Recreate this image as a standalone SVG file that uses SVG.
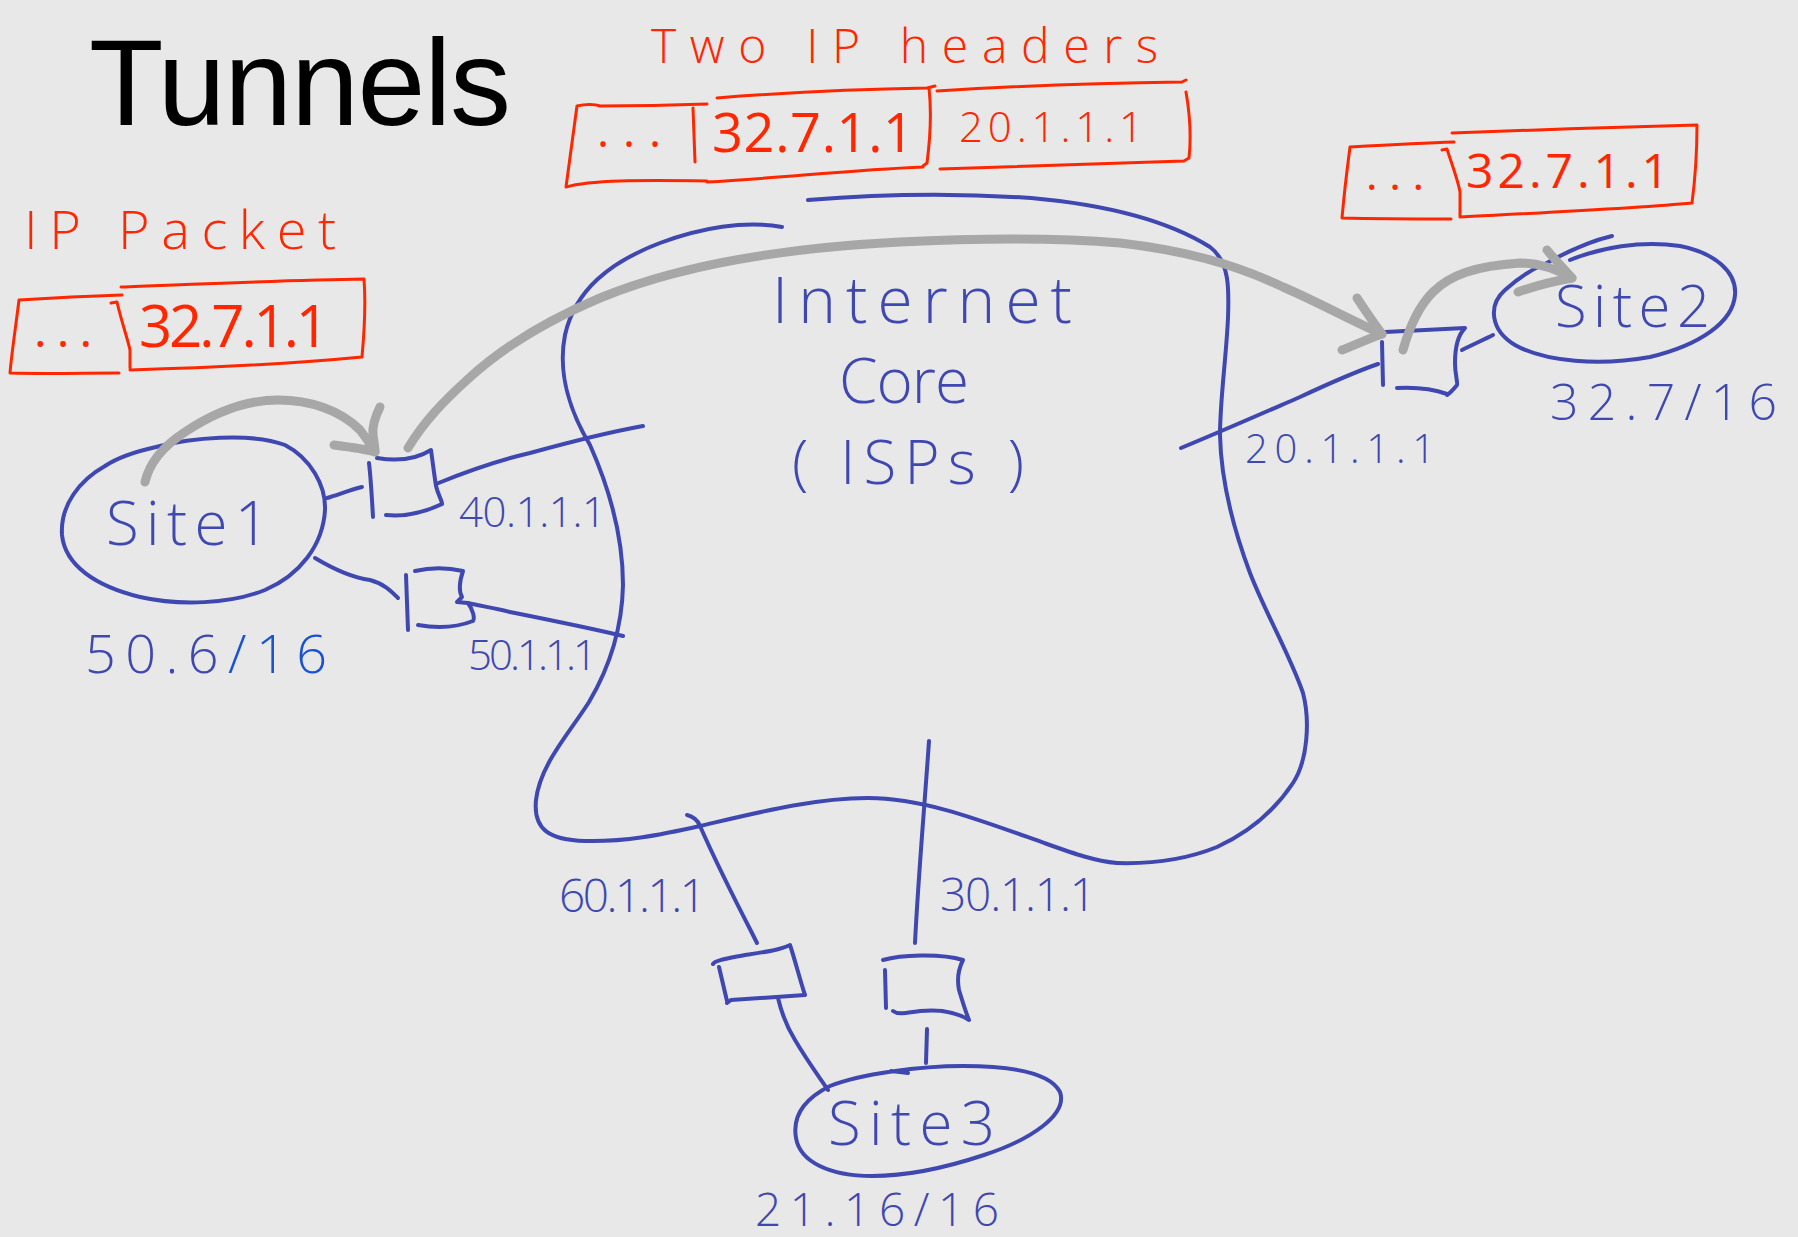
<svg xmlns="http://www.w3.org/2000/svg" width="1798" height="1237" viewBox="0 0 1798 1237">
  <style>
    .ink { fill: none; stroke: #3f47b1; stroke-width: 4; stroke-linecap: round; stroke-linejoin: round; }
    .red { fill: none; stroke: #ff2600; stroke-width: 3; stroke-linecap: round; stroke-linejoin: round; }
    .flow { fill: none; stroke: #a7a7a7; stroke-width: 9; stroke-linecap: round; stroke-linejoin: round; }
    .hand { font-family: "Open Sans", "Liberation Sans", sans-serif; font-weight: 300; }
    .bold { font-weight: 400; }
    .blue { fill: #3f47b1; }
    .redtxt { fill: #ff2600; }
  </style>

  <rect x="0" y="0" width="1798" height="1237" fill="#e8e8e8"/>

  <!-- title -->
  <g id="title">
    <text x="89" y="125" font-family="Liberation Sans, Arial, sans-serif" font-size="122" fill="#000" textLength="422">Tunnels</text>
  </g>

  <!-- original packet leaving Site1 -->
  <g id="packet-original">
    <text class="hand redtxt" x="24" y="249" font-size="54" textLength="312">IP Packet</text>
    <path class="red" d="M19,300 C50,298 90,296 122,295 M19,300 C16,325 12,350 10,373 C45,374 85,373 119,373"/>
    <path class="red" d="M121,287 C200,284 290,280 364,279 C366,305 364,335 362,357 C300,363 200,368 130,370 M111,303 L117,302 C121,320 128,340 130,350 L130,368"/>
    <text class="hand redtxt bold" x="34" y="347" font-size="48" textLength="58">...</text>
    <text class="hand redtxt bold" x="139" y="347" font-size="58" textLength="190">32.7.1.1</text>
  </g>

  <!-- encapsulated packet inside the tunnel -->
  <g id="packet-tunnel">
    <text class="hand redtxt" x="651" y="63" font-size="48" textLength="507">Two IP headers</text>
    <path class="red" d="M577,106 C585,104 595,104 600,106 C640,106 680,105 707,104 M577,106 C573,135 569,165 566,187 C590,180 640,180 707,181 M693,108 L695,162"/>
    <path class="red" d="M717,98 C780,93 860,89 927,88 L935,86 M929,88 C932,115 930,140 927,163 L923,166 M707,182 C780,178 850,170 923,167"/>
    <path class="red" d="M937,91 C1000,87 1100,83 1182,82 L1186,80 M1186,92 C1190,115 1191,140 1189,158 L1184,161 M940,169 C1020,166 1100,163 1184,161"/>
    <text class="hand redtxt bold" x="597" y="147" font-size="46" textLength="64">...</text>
    <text class="hand redtxt bold" x="712" y="152" font-size="54" textLength="202">32.7.1.1</text>
    <text class="hand redtxt" x="959" y="142" font-size="42" textLength="184">20.1.1.1</text>
  </g>

  <!-- decapsulated packet delivered to Site2 -->
  <g id="packet-delivered">
    <path class="red" d="M1350,147 C1385,145 1420,143 1454,142 M1350,147 C1347,170 1344,195 1342,218 C1380,219 1415,219 1451,219"/>
    <path class="red" d="M1452,133 C1530,130 1620,127 1697,125 C1697,150 1695,180 1692,203 C1640,208 1560,212 1460,217 M1442,150 L1447,149 C1452,165 1458,180 1460,192 L1460,217"/>
    <text class="hand redtxt bold" x="1366" y="190" font-size="44" textLength="58">...</text>
    <text class="hand redtxt bold" x="1466" y="188" font-size="48" textLength="203">32.7.1.1</text>
  </g>

  <!-- internet core cloud -->
  <g id="internet-core">
    <path class="ink" d="M782,227 C745,220 700,228 660,243 C610,262 575,290 565,335 C557,375 572,415 590,445 C610,490 623,540 623,585 C622,630 608,670 589,702 C568,735 540,765 536,800 C533,830 550,840 585,841 C625,842 660,835 700,826 C760,812 815,798 868,798 C925,798 985,822 1047,844 C1075,854 1095,861 1117,863"/>
    <path class="ink" d="M808,200 C880,194 960,193 1031,198 C1110,205 1170,222 1210,247 C1230,262 1229,290 1228,318 C1226,360 1220,400 1220,435 C1221,480 1232,525 1250,573 C1265,612 1290,655 1303,693 C1310,720 1308,760 1293,783 C1275,810 1250,832 1217,847 C1185,860 1150,864 1117,863"/>
    <text class="hand blue" x="772" y="323" font-size="64" textLength="300">Internet</text>
    <text class="hand blue" x="839" y="403" font-size="62" textLength="130">Core</text>
    <text class="hand blue" x="792" y="484" font-size="60" textLength="232">( ISPs )</text>
  </g>

  <!-- sites -->
  <g id="site1">
    <path class="ink" d="M156,447 C190,438 250,432 285,445 C310,458 326,485 325,510 C323,545 300,575 265,590 C230,604 180,606 140,597 C95,586 65,565 62,535 C60,505 80,480 105,466 C120,456 138,451 156,447 Z"/>
    <text class="hand blue" x="106" y="545" font-size="60" textLength="163">Site1</text>
    <text class="hand" x="85" y="673" font-size="54" textLength="242"><tspan fill="#3f47b1">50.6</tspan><tspan fill="#1a52d4">/16</tspan></text>
  </g>

  <g id="site2">
    <path class="ink" d="M1570,260 C1600,248 1640,240 1680,246 C1715,253 1737,272 1735,295 C1733,322 1700,345 1650,357 C1600,366 1545,362 1515,345 C1490,330 1488,305 1505,290 C1518,278 1530,270 1545,264 C1570,250 1595,240 1612,236"/>
    <text class="hand blue" x="1555" y="327" font-size="58" textLength="155">Site2</text>
    <text class="hand blue" x="1550" y="420" font-size="50" textLength="227">32.7/16</text>
  </g>

  <g id="site3">
    <path class="ink" d="M830,1086 C860,1074 920,1066 963,1066 C1010,1066 1050,1072 1060,1092 C1068,1115 1030,1140 984,1155 C945,1168 905,1176 872,1176 C830,1176 800,1162 796,1138 C792,1115 806,1098 830,1086 Z M891,1071 L908,1073"/>
    <text class="hand blue" x="828" y="1145" font-size="60" textLength="167">Site3</text>
    <text class="hand blue" x="755" y="1226" font-size="46" textLength="244">21.16/16</text>
  </g>

  <!-- tunnel end-point routers -->
  <g id="router-40">
    <path class="ink" d="M369,463 C371,480 372,500 373,517 M377,458 C395,461 415,460 431,450 C433,465 435,480 436,486 C438,495 442,500 442,504 M386,515 C405,517 425,512 442,504"/>
    <text class="hand blue" x="459" y="527" font-size="42" textLength="147">40.1.1.1</text>
  </g>

  <g id="router-50">
    <path class="ink" d="M406,575 L408,630 M415,571 C432,567 450,568 463,571 C460,580 458,590 462,597 L457,602 L468,603 C473,610 475,618 473,621 C455,628 435,628 418,625"/>
    <text class="hand blue" x="468" y="670" font-size="42" textLength="129">50.1.1.1</text>
  </g>

  <g id="router-20">
    <path class="ink" d="M1382,342 L1383,385 M1385,332 L1465,328 C1457,336 1455,350 1455,363 C1455,375 1458,383 1457,385 C1453,390 1450,393 1447,395 M1397,388 C1415,387 1433,389 1447,394"/>
    <text class="hand blue" x="1245" y="463" font-size="40" textLength="190">20.1.1.1</text>
  </g>

  <g id="router-60">
    <path class="ink" d="M713,964 C715,960 730,958 745,955 C765,952 780,950 790,945 C795,960 800,980 805,995 L731,1000 L727,1003 M719,967 L727,1001"/>
    <text class="hand blue" x="559" y="912" font-size="46" textLength="147">60.1.1.1</text>
  </g>

  <g id="router-30">
    <path class="ink" d="M883,960 C900,955 940,953 963,960 C958,970 957,980 959,990 C962,1000 965,1010 969,1020 C955,1011 940,1009 920,1011 C905,1013 898,1015 893,1011 M885,970 L886,1008"/>
    <text class="hand blue" x="940" y="911" font-size="46" textLength="156">30.1.1.1</text>
  </g>

  <!-- links and packet flow -->
  <g id="connectors">
    <path class="ink" d="M327,498 C340,494 350,490 362,487"/>
    <path class="ink" d="M436,484 C470,470 500,460 530,453 C570,442 610,432 643,426"/>
    <path class="ink" d="M315,558 C335,570 355,578 370,580 C385,584 392,592 398,598"/>
    <path class="ink" d="M468,603 C480,606 495,608 510,612 C550,620 590,628 623,636"/>
    <path class="ink" d="M1181,448 C1220,432 1270,410 1300,397 C1330,383 1355,372 1378,364"/>
    <path class="ink" d="M1462,350 C1472,345 1483,340 1493,335"/>
    <path class="ink" d="M687,815 C692,816 698,820 700,826 C715,860 735,900 752,933 L757,943"/>
    <path class="ink" d="M778,998 C782,1015 787,1027 795,1040 C808,1062 820,1078 828,1090"/>
    <path class="ink" d="M929,741 C925,800 918,880 915,943"/>
    <path class="ink" d="M927,1029 L926,1063"/>

    <path class="flow" d="M145,482 C150,460 165,445 185,432 C215,412 245,400 278,400 C310,400 340,410 360,430 C368,440 372,447 375,452"/>
    <path class="flow" d="M334,445 C350,447 365,449 375,452 M380,407 C376,415 372,425 373,435 C374,442 375,448 375,452"/>
    <path class="flow" d="M408,448 C425,420 445,400 467,380 C510,340 560,315 600,298 C680,265 780,248 900,242 C980,238 1060,238 1120,243 C1180,250 1230,262 1283,287 C1320,303 1350,320 1382,334"/>
    <path class="flow" d="M1357,298 C1365,310 1375,325 1382,334 M1342,350 C1355,345 1370,338 1382,334"/>
    <path class="flow" d="M1403,350 C1410,325 1420,305 1433,292 C1450,275 1475,266 1520,263 C1540,263 1558,270 1572,278"/>
    <path class="flow" d="M1547,250 C1555,260 1565,270 1572,278 M1518,292 C1535,286 1555,281 1572,278"/>
  </g>
</svg>
